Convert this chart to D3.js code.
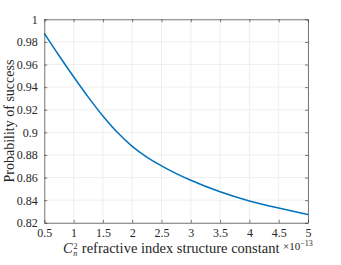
<!DOCTYPE html>
<html><head><meta charset="utf-8">
<script src="https://cdn.jsdelivr.net/npm/d3@7"></script>
<style>body{margin:0;background:#fff}svg{display:block}</style>
</head><body><svg id="c" width="341" height="265"></svg>
<script>
const cn2 = [0.5, 0.75, 1, 1.25, 1.5, 1.75, 2, 2.25, 2.5, 3, 3.5, 4, 4.5, 5];
const prob = [0.9876, 0.9680, 0.9492, 0.9312, 0.9145, 0.8998, 0.8876, 0.8781, 0.8704, 0.8576, 0.8474, 0.8393, 0.8330, 0.8274];
const xTicks = [0.5, 1, 1.5, 2, 2.5, 3, 3.5, 4, 4.5, 5];
const yTicks = [0.82, 0.84, 0.86, 0.88, 0.9, 0.92, 0.94, 0.96, 0.98, 1];
const FONT = "Liberation Serif";
const INK = "#262626";

const L = 44.3, R = 308, T = 19.3, B = 222.8;
const svg = d3.select("#c");
const x = d3.scaleLinear().domain([0.5, 5]).range([L, R]);
const y = d3.scaleLinear().domain([0.82, 1]).range([B, T]);

// grid
const g = svg.append("g");
g.selectAll("line.vx").data(xTicks).join("line")
  .attr("x1", d => x(d)).attr("x2", d => x(d)).attr("y1", T).attr("y2", B)
  .attr("stroke", "#e8e8e8").attr("stroke-width", 0.7);
g.selectAll("line.hy").data(yTicks).join("line")
  .attr("y1", d => y(d)).attr("y2", d => y(d)).attr("x1", L).attr("x2", R)
  .attr("stroke", "#e8e8e8").attr("stroke-width", 0.7);

// line
svg.append("path").datum(cn2.map((c, i) => [c, prob[i]]))
  .attr("d", d3.line().x(d => x(d[0])).y(d => y(d[1])).curve(d3.curveMonotoneX))
  .attr("fill", "none").attr("stroke", "#0072BD").attr("stroke-width", 1.5);

// axes
const fmt = d => String(+d.toFixed(2));
const ax = (gen, tr) => svg.append("g").attr("transform", tr).call(gen);
const styleAxis = sel => {
  sel.attr("font-family", FONT).attr("font-size", 12);
  sel.select(".domain").attr("stroke", INK).attr("stroke-width", 0.6);
  sel.selectAll(".tick line").attr("stroke", INK).attr("stroke-width", 0.6);
  sel.selectAll(".tick text").attr("fill", INK).style("font-family", FONT).style("font-size", "12px");
};
const xb = ax(d3.axisBottom(x).tickValues(xTicks).tickFormat(fmt).tickSizeInner(-3).tickSizeOuter(0).tickPadding(6), `translate(0,${B})`);
const xt = ax(d3.axisTop(x).tickValues(xTicks).tickFormat("").tickSizeInner(-3).tickSizeOuter(0), `translate(0,${T})`);
const yl = ax(d3.axisLeft(y).tickValues(yTicks).tickFormat(fmt).tickSizeInner(-3).tickSizeOuter(0).tickPadding(6.6), `translate(${L},0)`);
const yr = ax(d3.axisRight(y).tickValues(yTicks).tickFormat("").tickSizeInner(-3).tickSizeOuter(0), `translate(${R},0)`);
[xb, xt, yl, yr].forEach(styleAxis);
xb.selectAll(".tick text").attr("y", 0).attr("dy", 0).attr("transform", "translate(0,14.2)");

// y label
svg.append("text").attr("transform", `translate(13.5,${(T + B) / 2}) rotate(-90)`)
  .attr("text-anchor", "middle").style("font-family", FONT).style("font-size", "14px").attr("fill", INK)
  .text("Probability of success");

// x label
const xl = svg.append("text").attr("x", 63).attr("y", 253).style("font-family", FONT).style("font-size", "14px").attr("fill", INK);
xl.append("tspan").style("font-style", "italic").text("C");
xl.append("tspan").attr("dy", -4.5).attr("dx", 0.8).style("font-size", "8px").text("2");
xl.append("tspan").attr("dy", 7.5).attr("dx", -4.3).style("font-size", "8px").style("font-style", "italic").text("n");
const rest = xl.append("tspan").attr("dy", -3).attr("dx", 1).text(" refractive index structure constant");
{ const w = xl.node().getBBox().width; const s = 14 * 217 / w; rest.style("font-size", s + "px"); xl.style("font-size", s + "px"); }

const ex = svg.append("text").attr("x", 283).attr("y", 250).style("font-family", FONT).style("font-size", "11px").attr("fill", INK);
ex.append("tspan").text("×10");
ex.append("tspan").attr("dy", -4.5).style("font-size", "8px").text("−13");
</script></body></html>
